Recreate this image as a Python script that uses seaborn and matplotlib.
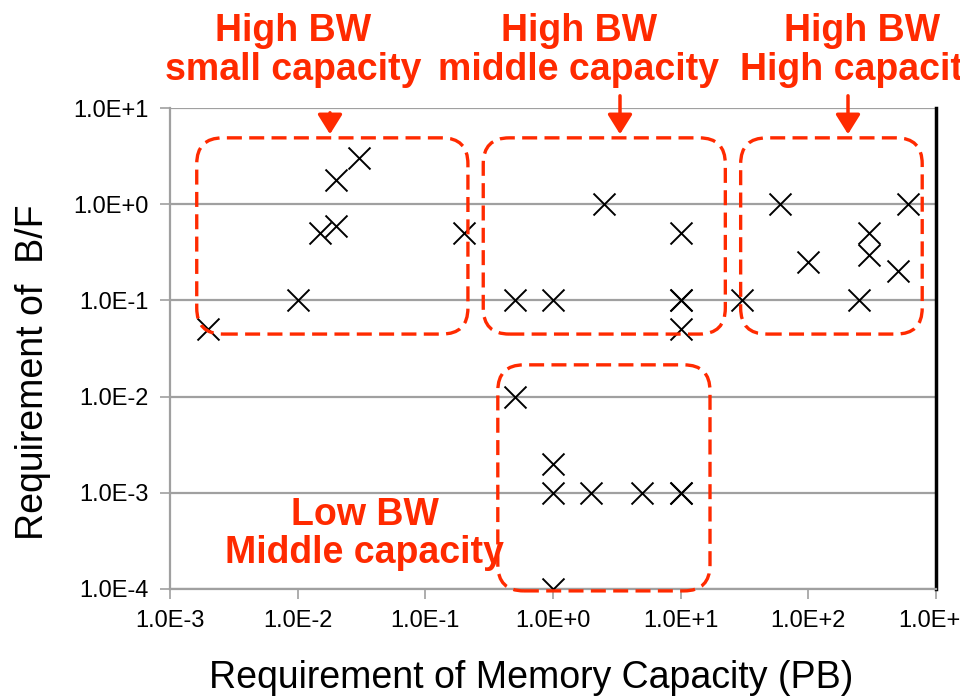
import matplotlib
matplotlib.use("Agg")
import matplotlib.pyplot as plt
from matplotlib.patches import FancyBboxPatch, FancyArrowPatch
import seaborn as sns
import pandas as pd

# ===============================================
# Data
# ===============================================
capacity_pb = [0.002, 0.01, 0.015, 0.02, 0.02, 0.03, 0.2,
               0.5, 1, 2.5, 10, 10, 10, 10,
               30, 60, 100, 250, 300, 300, 500, 600,
               0.5, 1, 1, 2, 5, 10, 10, 1]
bf_ratio = [0.05, 0.1, 0.5, 0.6, 1.8, 3.0, 0.5,
            0.1, 0.1, 1.0, 0.5, 0.1, 0.1, 0.05,
            0.1, 1.0, 0.25, 0.1, 0.5, 0.3, 0.2, 1.0,
            0.01, 0.002, 0.001, 0.001, 0.001, 0.001, 0.001, 0.0001]

x_ticks = [1e-3, 1e-2, 1e-1, 1e0, 1e1, 1e2, 1e3]
x_tick_labels = ["1.0E-3", "1.0E-2", "1.0E-1", "1.0E+0", "1.0E+1", "1.0E+2", "1.0E+3"]
y_ticks = [1e-4, 1e-3, 1e-2, 1e-1, 1e0, 1e1]
y_tick_labels = ["1.0E-4", "1.0E-3", "1.0E-2", "1.0E-1", "1.0E+0", "1.0E+1"]

group_labels = ["High BW\nsmall capacity", "High BW\nmiddle capacity",
                "High BW\nHigh capacity", "Low BW\nMiddle capacity"]

df = pd.DataFrame({"capacity": capacity_pb, "bf": bf_ratio})

RED = "#FF2A00"
GRID = "#A0A0A0"

# ===============================================
# Figure
# ===============================================
sns.set_theme(style="white")
plt.rcParams['font.family'] = ['Liberation Sans', 'DejaVu Sans']

fig = plt.figure(figsize=(9.6, 6.97), dpi=100)
ax = fig.add_axes([0.177, 0.155, 0.798, 0.690])

sns.scatterplot(data=df, x="capacity", y="bf", marker="x", s=250,
                color="black", linewidth=1.4, ax=ax, zorder=3)

ax.set_xscale("log")
ax.set_yscale("log")
ax.set_xlim(1e-3, 1e3)
ax.set_ylim(1e-4, 1e1)
ax.set_xticks(x_ticks)
ax.set_xticklabels(x_tick_labels)
ax.set_yticks(y_ticks)
ax.set_yticklabels(y_tick_labels)
ax.minorticks_off()
ax.tick_params(axis="both", labelsize=17, length=7, width=1.2, color=GRID,
               labelcolor="black", direction="out", pad=8,
               bottom=True, left=True)

ax.yaxis.grid(True, color=GRID, linewidth=1.6)
ax.xaxis.grid(False)
ax.set_axisbelow(True)

for side in ["left", "bottom"]:
    ax.spines[side].set_color(GRID)
    ax.spines[side].set_linewidth(1.6)
ax.spines["top"].set_visible(False)
ax.spines["right"].set_color("black")
ax.spines["right"].set_linewidth(2.5)

ax.set_xlabel("Requirement of Memory Capacity (PB)", fontsize=27, color="black")
ax.set_ylabel("Requirement of  B/F", fontsize=27, color="black")
# labels sit a bit off-centre in the original
ax.xaxis.set_label_coords(0.471, -0.148)
ax.yaxis.set_label_coords(-0.155, 0.451)

# ===============================================
# Dashed rounded group boxes (axes fraction)
# ===============================================
boxes = [(0.035, 0.530, 0.354, 0.408),
         (0.409, 0.530, 0.316, 0.408),
         (0.745, 0.530, 0.237, 0.408),
         (0.428, -0.004, 0.277, 0.470)]
aspect = 766 / 481
for bx, by, bw, bh in boxes:
    patch = FancyBboxPatch((bx, by), bw, bh,
                           boxstyle="round,pad=0,rounding_size=0.034",
                           mutation_aspect=aspect,
                           transform=ax.transAxes, clip_on=False,
                           fill=False, edgecolor=RED, linewidth=2.4,
                           linestyle=(0, (4.5, 2.2)), zorder=4)
    ax.add_patch(patch)

# ===============================================
# Group labels and arrows
# ===============================================
label_pos = [(0.305, 0.928), (0.603, 0.928), (0.898, 0.928), (0.380, 0.234)]
for text, (tx, ty) in zip(group_labels, label_pos):
    fig.text(tx, ty, text, color=RED, fontsize=27, fontweight="bold",
             ha="center", va="center", multialignment="center",
             linespacing=1.1)

arrows = [(330, 587, 560), (620, 604, 560), (848, 604, 560)]
for ax_x, y_tail, y_head in arrows:
    fig.patches.append(FancyArrowPatch(
        (ax_x, y_tail), (ax_x, y_head), transform=None,
        arrowstyle="-|>,head_length=8,head_width=5",
        color=RED, linewidth=2.5, mutation_scale=1.5))

fig.savefig("out.png", dpi=100)
